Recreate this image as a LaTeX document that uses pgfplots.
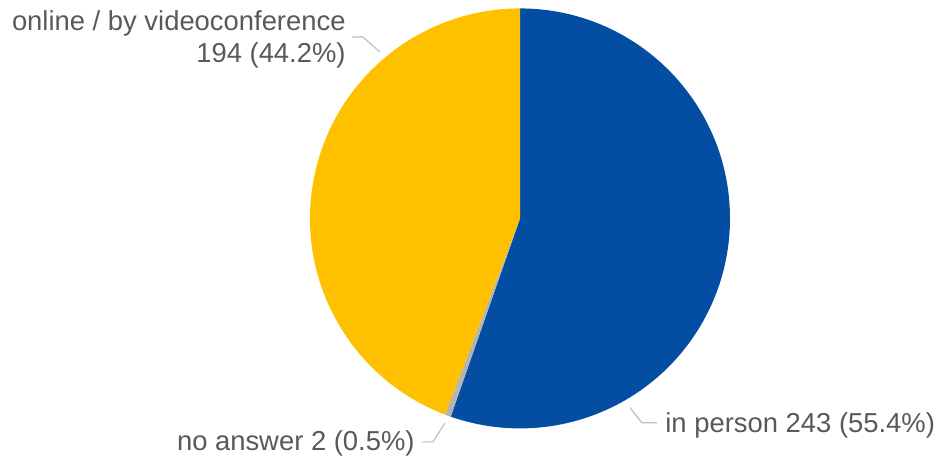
\documentclass[border=0pt]{standalone}
\usepackage{pgfplots}
\usepackage{pgfplotstable}
\pgfplotsset{compat=1.18}
\usepackage{fontspec}
\setmainfont{Liberation Sans}
\definecolor{blueC}{RGB}{3,78,162}
\definecolor{yellowC}{RGB}{255,192,0}
\definecolor{greyC}{RGB}{180,180,180}
\definecolor{txtC}{RGB}{89,89,89}
\definecolor{leadC}{RGB}{191,191,191}
\pgfplotstableread{
label value
inperson 243
noanswer 2
online 194
}\piedata
\begin{document}
\pgfplotstablegetelem{0}{value}\of\piedata\edef\va{\pgfplotsretval}%
\pgfplotstablegetelem{1}{value}\of\piedata\edef\vb{\pgfplotsretval}%
\pgfplotstablegetelem{2}{value}\of\piedata\edef\vc{\pgfplotsretval}%
\pgfmathsetmacro{\tot}{\va+\vb+\vc}%
\pgfmathsetmacro{\aA}{90-\va/\tot*360}%
\pgfmathsetmacro{\aB}{\aA-\vb/\tot*360}%
\begin{tikzpicture}
\fontsize{13.7}{16}\selectfont
\begin{axis}[
  scale only axis, width=468.5pt, height=228.5pt,
  xmin=0, xmax=937, ymin=0, ymax=457,
  hide axis, clip=false,
]
\path (axis cs:0,0) rectangle (axis cs:937,457);
\fill[blueC] (axis cs:520,239) -- ++(90:105pt) arc[start angle=90, end angle=\aA, radius=105pt] -- cycle;
\fill[greyC] (axis cs:520,239) -- ++(\aA:105pt) arc[start angle=\aA, end angle=\aB, radius=105pt] -- cycle;
\fill[yellowC] (axis cs:520,239) -- ++(\aB:105pt) arc[start angle=\aB, end angle=-270, radius=105pt] -- cycle;
\draw[leadC, line width=0.6pt] (axis cs:352,420) -- (axis cs:363,420) -- (axis cs:380,405);
\draw[leadC, line width=0.6pt] (axis cs:422,16) -- (axis cs:433,16) -- (axis cs:445,35);
\draw[leadC, line width=0.6pt] (axis cs:630,50) -- (axis cs:642,35) -- (axis cs:657,35);
\node[anchor=base east, inner sep=0pt, text=txtC] at (axis cs:346,427) {online / by videoconference};
\node[anchor=base east, inner sep=0pt, text=txtC] at (axis cs:346,395) {194 (44.2\%)};
\node[anchor=base east, inner sep=0pt, text=txtC] at (axis cs:415,7) {no answer 2 (0.5\%)};
\node[anchor=base west, inner sep=0pt, text=txtC] at (axis cs:665,25) {in person 243 (55.4\%)};
\end{axis}
\end{tikzpicture}
\end{document}
